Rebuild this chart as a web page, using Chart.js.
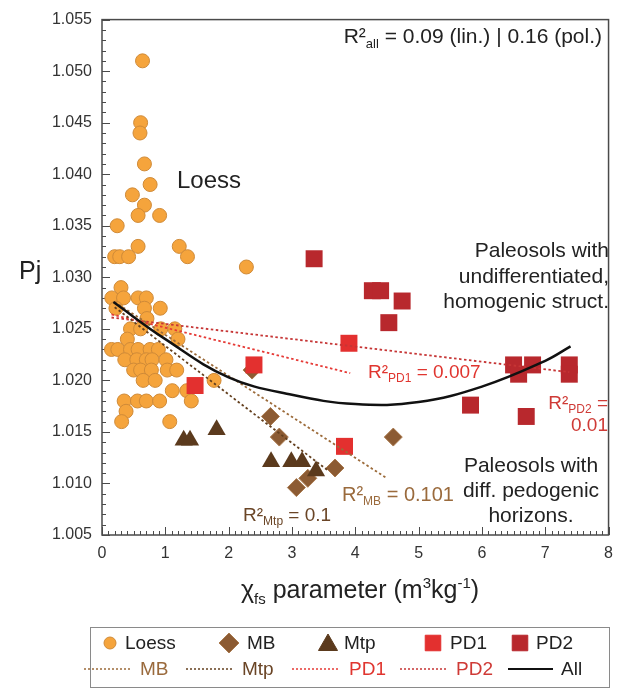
<!DOCTYPE html>
<html>
<head>
<meta charset="utf-8">
<script src="https://cdn.jsdelivr.net/npm/chart.js@4.4.0/dist/chart.umd.min.js"></script>
<style>
html,body{margin:0;padding:0;background:#fff;}
canvas{display:block;}
</style>
</head>
<body>
<canvas id="c" width="622" height="689"></canvas>
<script>
// ---------- data ----------
const loessX = [0.64,0.61,0.60,0.67,0.76,0.48,0.67,0.57,0.91,0.24,0.57,1.22,0.20,0.28,0.42,1.35,2.28,0.30,0.155,0.34,0.57,0.70,0.67,0.92,0.22,0.71,0.45,0.61,0.93,1.15,0.40,1.20,0.15,0.25,0.45,0.57,0.76,0.89,0.36,0.55,0.70,0.79,1.01,0.50,0.61,0.78,1.03,1.18,0.65,0.84,1.11,1.34,1.41,0.35,0.56,0.70,0.91,0.38,0.31,1.07,1.77];
const loessY = [1.051,1.045,1.044,1.041,1.039,1.038,1.037,1.036,1.036,1.035,1.033,1.033,1.032,1.032,1.032,1.032,1.031,1.029,1.028,1.028,1.028,1.028,1.027,1.027,1.027,1.026,1.025,1.025,1.025,1.025,1.024,1.024,1.023,1.023,1.023,1.023,1.023,1.023,1.022,1.022,1.022,1.022,1.022,1.021,1.021,1.021,1.021,1.021,1.020,1.020,1.019,1.019,1.018,1.018,1.018,1.018,1.018,1.017,1.016,1.016,1.020];

const mbX = [2.37,2.66,2.80,3.07,3.25,3.68,4.60];
const mbY = [1.021,1.0165,1.0145,1.0096,1.0105,1.0115,1.0145];

const mtpX = [1.29,1.39,1.81,2.67,2.99,3.16,3.38];
const mtpY = [1.0142,1.0142,1.0152,1.0121,1.0121,1.0121,1.0112];

const pd1X = [1.47,2.40,3.83,3.90];
const pd1Y = [1.0195,1.0215,1.0136,1.0236];

const pd2X = [3.35,4.27,4.40,4.53,4.74,5.82,6.50,6.58,6.70,6.80,7.38,7.38];
const pd2Y = [1.0318,1.0287,1.0287,1.0256,1.0277,1.0176,1.0215,1.0206,1.0165,1.0215,1.0215,1.0206];

// regression lines
const allLineX = [0.18,1,2,3,4,5,6,7,7.4];
const allLineY = [1.0276,1.0240,1.0203,1.0186,1.0177,1.0179,1.0194,1.0219,1.0233];
const mbLineX = [0.2,4.5];
const mbLineY = [1.0276,1.0105];
const mtpLineX = [0.2,3.58];
const mtpLineY = [1.0271,1.0112];
const pd1LineX = [0.15,3.92];
const pd1LineY = [1.0264,1.0207];
const pd2LineX = [0.15,7.38];
const pd2LineY = [1.0261,1.0208];

// axes
const xTickValues = [0,1,2,3,4,5,6,7,8];
const yTickLabels = ['1.005','1.010','1.015','1.020','1.025','1.030','1.035','1.040','1.045','1.050','1.055'];

// ---------- styles ----------
const FONT = '"Liberation Sans", Arial, Helvetica, sans-serif';
const C = {
  loess: '#f5a43c', loessB: '#cf8a38',
  mb: '#8c5b33', mbB: '#a97a4f',
  mtp: '#5b3a1d',
  pd1: '#e3302f',
  pd2: '#b8282d',
  mbLine: '#9c6b3a', mtpLine: '#64401f',
  pd1Line: '#e63a36', pd2Line: '#c63535',
  pd1Txt: '#e0352f', pd2Txt: '#cf3a36',
  mbTxt: '#9a6a3c', mtpTxt: '#6a4526',
  text: '#222'
};

const pts = (xs, ys) => xs.map((x, i) => ({x: x, y: ys[i]}));

function lineDs(label, xs, ys, color, dash, width, tension) {
  return {
    type: 'line', label: label, data: pts(xs, ys),
    borderColor: color, borderWidth: width, borderDash: dash,
    pointRadius: 0, fill: false, tension: tension || 0, showLine: true, clip: false
  };
}
function scatterDs(label, xs, ys, style, radius, bg, border, bw) {
  return {
    type: 'scatter', label: label, data: pts(xs, ys),
    pointStyle: style, pointRadius: radius, pointHoverRadius: radius,
    backgroundColor: bg, borderColor: border, borderWidth: bw, clip: false
  };
}

// ---------- helpers ----------
function rich(ctx, x, y, parts, align) {
  let w = 0;
  parts.forEach(p => { ctx.font = p.s + 'px ' + FONT; p.w = ctx.measureText(p.t).width; w += p.w; });
  let cx = align === 'right' ? x - w : (align === 'center' ? x - w / 2 : x);
  ctx.textAlign = 'left';
  ctx.textBaseline = 'alphabetic';
  parts.forEach(p => {
    ctx.font = p.s + 'px ' + FONT;
    ctx.fillStyle = p.c;
    ctx.fillText(p.t, cx, y + (p.dy || 0));
    cx += p.w;
  });
}
function r2(sub, rest, size, color) {
  return [
    {t: 'R²', s: size, c: color},
    {t: sub, s: Math.round(size * 0.62), dy: Math.round(size * 0.22), c: color},
    {t: rest, s: size, c: color}
  ];
}

const decor = {
  id: 'decor',
  beforeDatasetsDraw(chart) {
    const ctx = chart.ctx, a = chart.chartArea;
    const xs = chart.scales.x, ys = chart.scales.y;
    ctx.save();
    ctx.strokeStyle = '#4a4a4a';
    ctx.lineWidth = 1.5;
    ctx.strokeRect(a.left, a.top, a.right - a.left, a.bottom - a.top);
    ctx.lineWidth = 1;
    ctx.beginPath();
    for (let k = 0; k <= 50; k++) {
      const py = Math.round(ys.getPixelForValue(1.005 + k * 0.001)) + 0.5;
      const len = (k % 5 === 0) ? 8 : 4;
      ctx.moveTo(a.left, py); ctx.lineTo(a.left + len, py);
    }
    for (let k = 0; k <= 80; k++) {
      const px = Math.round(xs.getPixelForValue(k * 0.1)) + 0.5;
      const len = (k % 10 === 0) ? 8 : 4;
      ctx.moveTo(px, a.bottom); ctx.lineTo(px, a.bottom - len);
    }
    ctx.stroke();
    ctx.restore();
  },
  afterDraw(chart) {
    const ctx = chart.ctx;
    ctx.save();
    // axis titles
    rich(ctx, 19, 279, [{t: 'Pj', s: 25, c: C.text}], 'left');
    rich(ctx, 360, 598, [
      {t: 'χ', s: 25, c: C.text},
      {t: 'fs', s: 15, dy: 6, c: C.text},
      {t: ' parameter (m', s: 25, c: C.text},
      {t: '3', s: 15, dy: -10, c: C.text},
      {t: 'kg', s: 25, c: C.text},
      {t: '-1', s: 15, dy: -10, c: C.text},
      {t: ')', s: 25, c: C.text}
    ], 'center');

    // annotations
    rich(ctx, 602, 43, r2('all', ' = 0.09 (lin.) | 0.16 (pol.)', 21, C.text), 'right');
    rich(ctx, 177, 188, [{t: 'Loess', s: 24, c: C.text}], 'left');
    rich(ctx, 609, 257, [{t: 'Paleosols with', s: 21, c: C.text}], 'right');
    rich(ctx, 609, 283, [{t: 'undifferentiated,', s: 21, c: C.text}], 'right');
    rich(ctx, 609, 308, [{t: 'homogenic struct.', s: 21, c: C.text}], 'right');
    rich(ctx, 368, 378, r2('PD1', ' = 0.007', 19, C.pd1Txt), 'left');
    rich(ctx, 608, 409, r2('PD2', ' =', 19, C.pd2Txt), 'right');
    rich(ctx, 608, 431, [{t: '0.01', s: 19, c: C.pd2Txt}], 'right');
    rich(ctx, 531, 472, [{t: 'Paleosols with', s: 21, c: C.text}], 'center');
    rich(ctx, 531, 497, [{t: 'diff. pedogenic', s: 21, c: C.text}], 'center');
    rich(ctx, 531, 522, [{t: 'horizons.', s: 21, c: C.text}], 'center');
    rich(ctx, 342, 501, r2('MB', ' = 0.101', 20, C.mbTxt), 'left');
    rich(ctx, 243, 521, r2('Mtp', ' = 0.1', 19, C.mtpTxt), 'left');

    // legend box
    ctx.strokeStyle = '#8a8a8a';
    ctx.lineWidth = 1;
    ctx.strokeRect(90.5, 627.5, 519, 60);
    const r1 = 649, r2y = 675, LF = 19;
    ctx.fillStyle = C.loess; ctx.strokeStyle = C.loessB; ctx.lineWidth = 1;
    Chart.helpers.drawPoint(ctx, {pointStyle: 'circle', radius: 6, borderWidth: 1}, 110, r1 - 6);
    ctx.fillStyle = C.mb; ctx.strokeStyle = C.mbB;
    Chart.helpers.drawPoint(ctx, {pointStyle: 'rectRot', radius: 10, borderWidth: 1}, 229, r1 - 6);
    ctx.fillStyle = C.mtp; ctx.strokeStyle = C.mtp;
    Chart.helpers.drawPoint(ctx, {pointStyle: 'triangle', radius: 11, borderWidth: 1}, 328, r1 - 4);
    ctx.fillStyle = C.pd1; ctx.strokeStyle = C.pd1;
    Chart.helpers.drawPoint(ctx, {pointStyle: 'rect', radius: 11, borderWidth: 1}, 433, r1 - 6);
    ctx.fillStyle = C.pd2; ctx.strokeStyle = C.pd2;
    Chart.helpers.drawPoint(ctx, {pointStyle: 'rect', radius: 11, borderWidth: 1}, 520, r1 - 6);
    rich(ctx, 125, r1, [{t: 'Loess', s: LF, c: C.text}], 'left');
    rich(ctx, 247, r1, [{t: 'MB', s: LF, c: C.text}], 'left');
    rich(ctx, 344, r1, [{t: 'Mtp', s: LF, c: C.text}], 'left');
    rich(ctx, 450, r1, [{t: 'PD1', s: LF, c: C.text}], 'left');
    rich(ctx, 536, r1, [{t: 'PD2', s: LF, c: C.text}], 'left');
    const seg = (x1, x2, col, dash, w) => {
      ctx.save(); ctx.strokeStyle = col; ctx.lineWidth = w; ctx.setLineDash(dash);
      ctx.beginPath(); ctx.moveTo(x1, r2y - 6); ctx.lineTo(x2, r2y - 6); ctx.stroke(); ctx.restore();
    };
    seg(84, 131, C.mbLine, [2, 2], 1.5);
    seg(186, 232, C.mtpLine, [2, 2], 1.5);
    seg(292, 340, C.pd1Line, [2, 2], 1.5);
    seg(400, 447, C.pd2Line, [2, 2], 1.5);
    seg(508, 553, '#111', [], 2);
    rich(ctx, 140, r2y, [{t: 'MB', s: LF, c: C.mbTxt}], 'left');
    rich(ctx, 242, r2y, [{t: 'Mtp', s: LF, c: C.mtpTxt}], 'left');
    rich(ctx, 349, r2y, [{t: 'PD1', s: LF, c: C.pd1Txt}], 'left');
    rich(ctx, 456, r2y, [{t: 'PD2', s: LF, c: C.pd2Txt}], 'left');
    rich(ctx, 561, r2y, [{t: 'All', s: LF, c: C.text}], 'left');
    ctx.restore();
  }
};

new Chart(document.getElementById('c'), {
  data: {
    datasets: [
      lineDs('All', allLineX, allLineY, '#111', [], 2.5, 0.4),
      lineDs('MB fit', mbLineX, mbLineY, C.mbLine, [2.5, 2.5], 1.8),
      lineDs('Mtp fit', mtpLineX, mtpLineY, C.mtpLine, [2.5, 2.5], 1.8),
      lineDs('PD1 fit', pd1LineX, pd1LineY, C.pd1Line, [2.5, 2.5], 1.8),
      lineDs('PD2 fit', pd2LineX, pd2LineY, C.pd2Line, [2.5, 2.5], 1.8),
      scatterDs('PD2', pd2X, pd2Y, 'rect', 12, C.pd2, C.pd2, 0),
      scatterDs('PD1', pd1X, pd1Y, 'rect', 12, C.pd1, C.pd1, 0),
      scatterDs('Mtp', mtpX, mtpY, 'triangle', 10.5, C.mtp, C.mtp, 0),
      scatterDs('MB', mbX, mbY, 'rectRot', 9, C.mb, C.mbB, 1),
      scatterDs('Loess', loessX, loessY, 'circle', 7, C.loess, C.loessB, 1)
    ]
  },
  options: {
    responsive: false,
    devicePixelRatio: 1,
    animation: false,
    events: [],
    layout: {padding: {left: 0, right: 4, top: 14, bottom: 0}},
    plugins: {legend: {display: false}, tooltip: {enabled: false}},
    scales: {
      x: {
        type: 'linear', min: 0, max: 8,
        afterBuildTicks: s => { s.ticks = xTickValues.map(v => ({value: v})); },
        ticks: {font: {family: FONT, size: 16}, color: '#333', padding: 9, maxRotation: 0,
                callback: v => String(v)},
        grid: {display: false, drawTicks: false},
        border: {display: false},
        afterFit: s => { s.height = 154; }
      },
      y: {
        type: 'linear', min: 1.005, max: 1.055,
        afterBuildTicks: s => { s.ticks = yTickLabels.map(t => ({value: parseFloat(t)})); },
        ticks: {font: {family: FONT, size: 16}, color: '#333', padding: 10,
                callback: (v, i) => yTickLabels[i]},
        grid: {display: false, drawTicks: false},
        border: {display: false},
        afterFit: s => { s.width = 102; }
      }
    }
  },
  plugins: [decor]
});
</script>
</body>
</html>
